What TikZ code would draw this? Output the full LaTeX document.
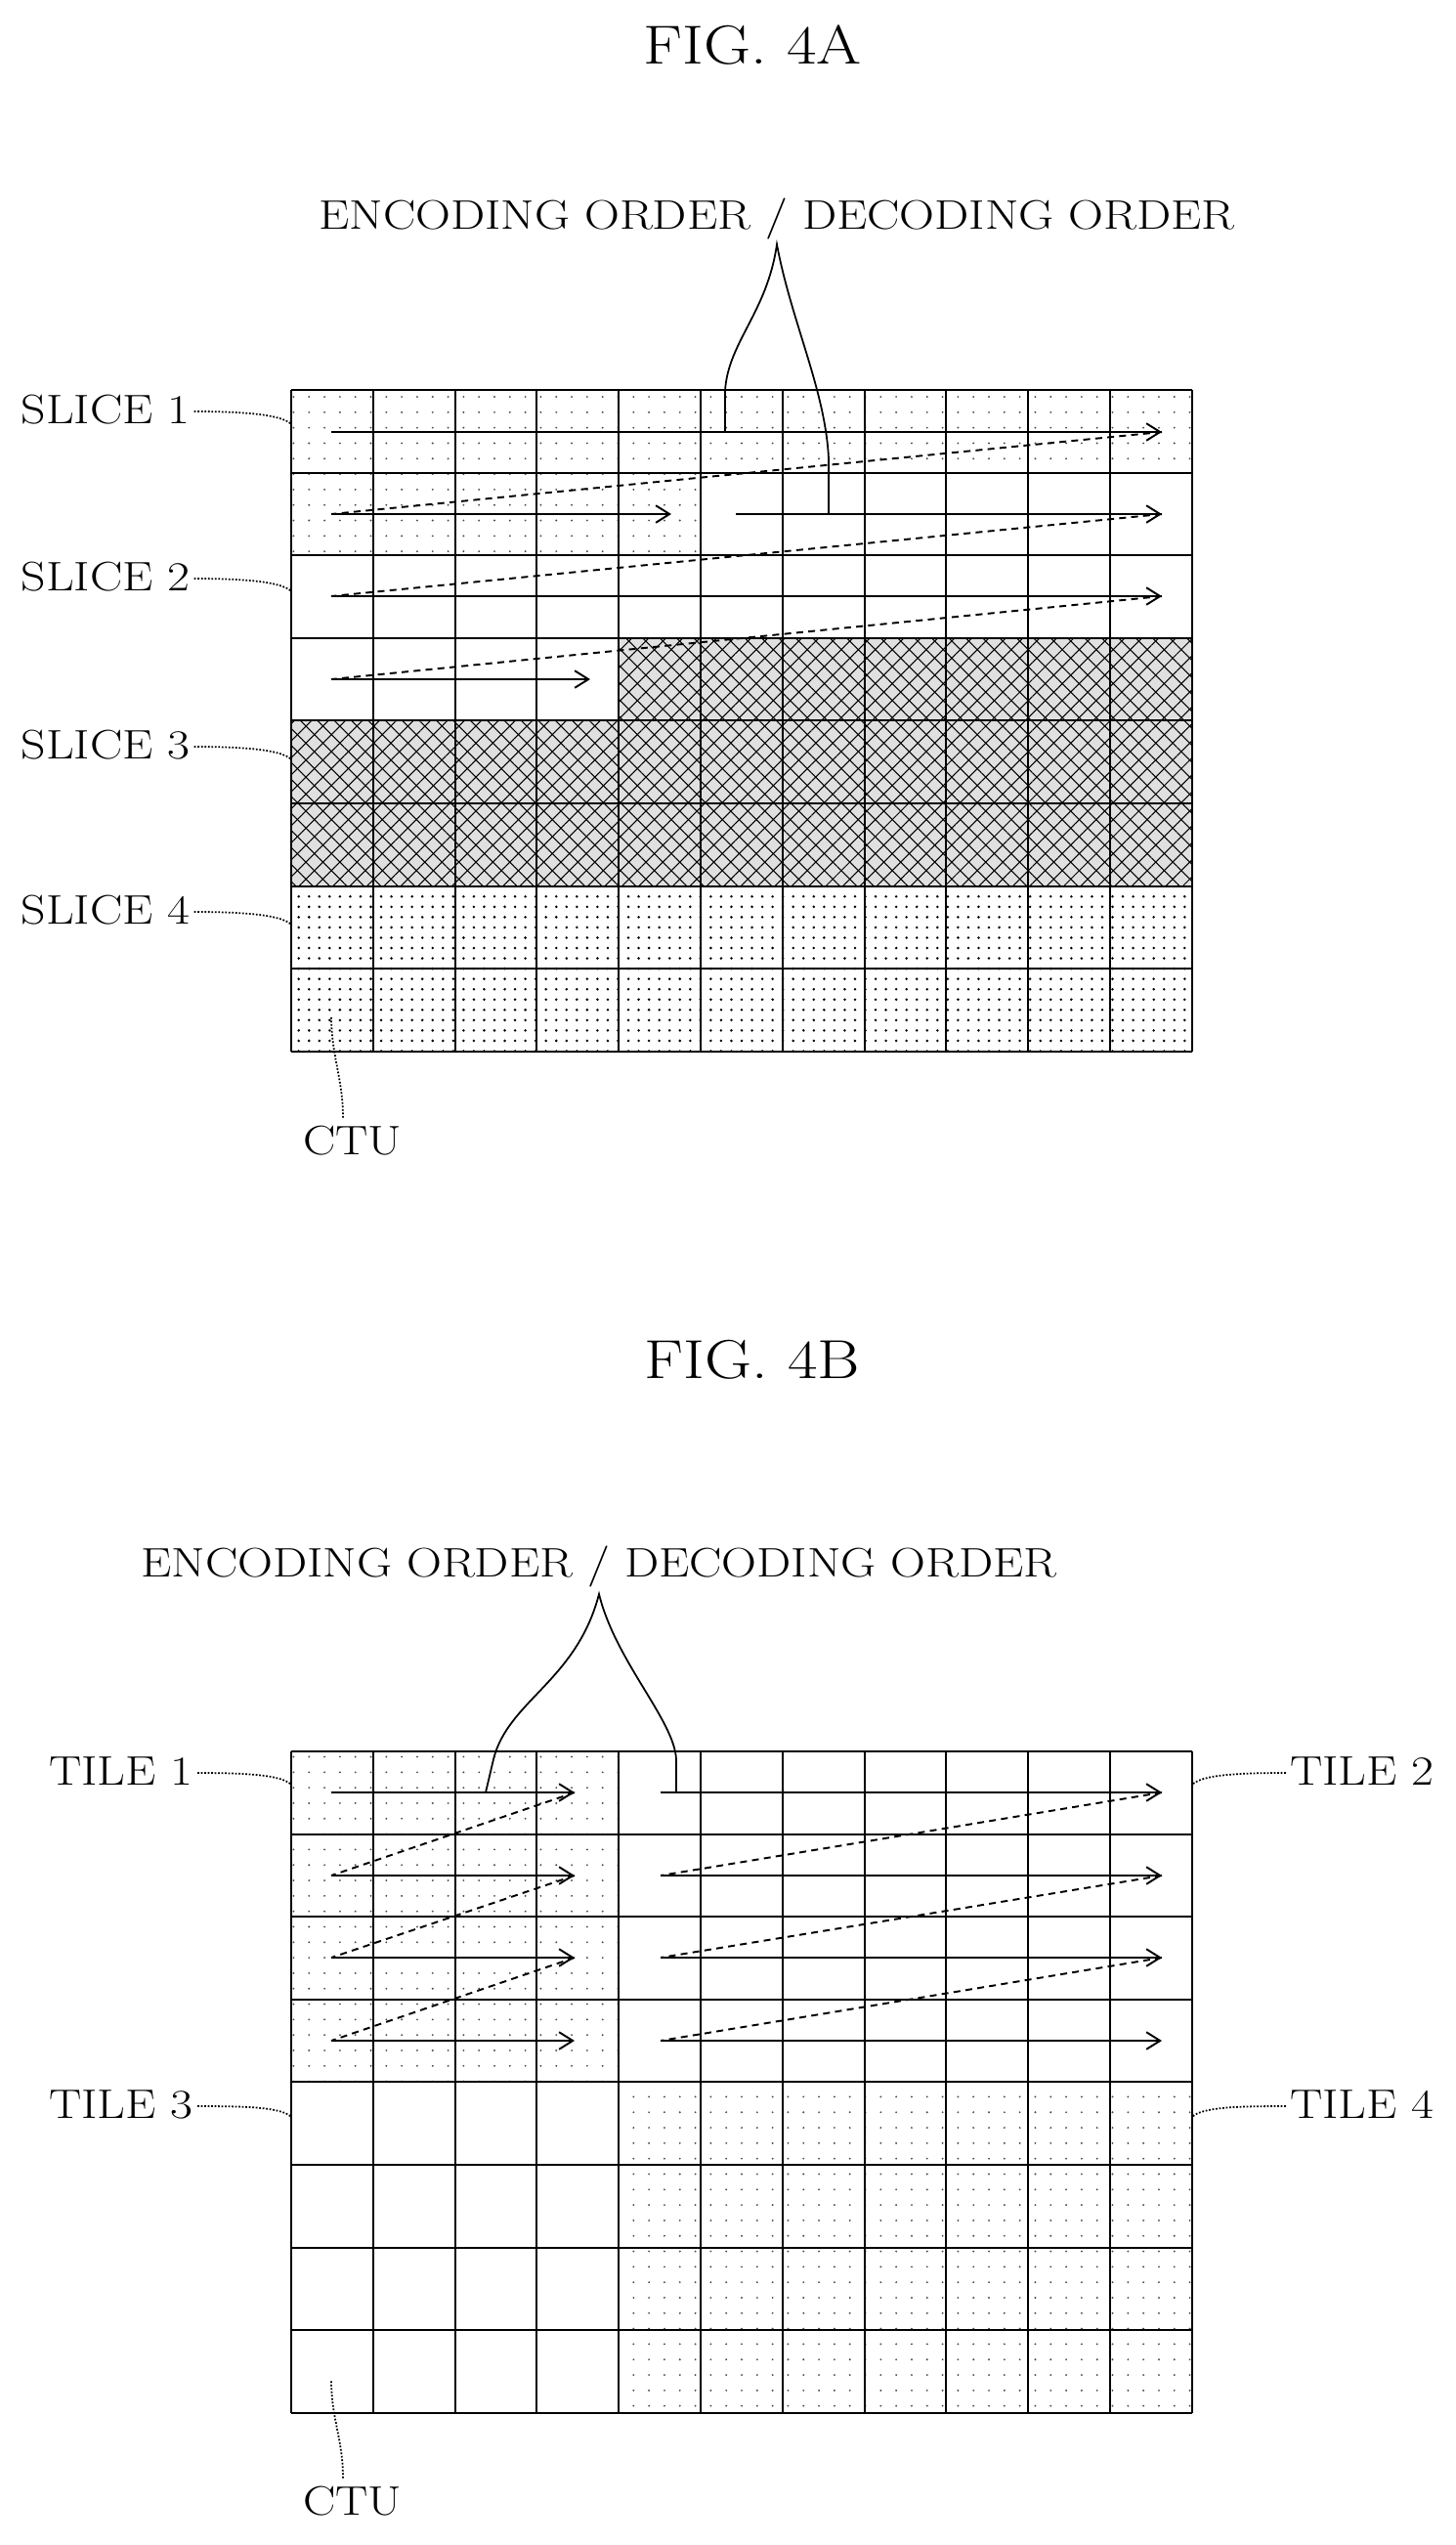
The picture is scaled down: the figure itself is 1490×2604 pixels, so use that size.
\documentclass[tikz,border=0pt]{standalone}
\usetikzlibrary{patterns.meta,arrows.meta}
\newcommand{\wdtx}[1]{\scalebox{1.18}[1]{#1}}
\begin{document}
\begin{tikzpicture}[x=0.02cm,y=-0.02cm,
  lbl/.style={inner sep=0pt,font=\fontsize{24}{24}\selectfont},
  ttl/.style={inner sep=0pt,font=\fontsize{32}{32}\selectfont},
  grid/.style={line width=1.1pt},
  ar/.style={line width=1.1pt,-{Straight Barb[length=8pt,width=10pt]}},
  ret/.style={line width=1.1pt,dash pattern=on 4pt off 3pt},
  lead/.style={line width=1pt,densely dotted},
  lt/.style={pattern={Dots[distance=9pt,radius=0.6pt]},pattern color=black!70},
  dk/.style={pattern={Dots[distance=6pt,radius=0.8pt]},pattern color=black},
  xh/.style={fill=black!12,postaction={pattern={Lines[angle=45,distance=7pt,line width=0.6pt]}},postaction={pattern={Lines[angle=-45,distance=7pt,line width=0.6pt]}}}]
\useasboundingbox (0,0) rectangle (1490,2604);
\def\cw{83.8}\def\rh{84.6}
% ================= FIG 4A =================
\node[ttl] (t4a) at (770,46) {\wdtx{FIG. 4A}};
\begin{scope}[shift={(298,399)}]
 \fill[lt] (0,0) rectangle (11*\cw,\rh);
 \fill[lt] (0,\rh) rectangle (5*\cw,2*\rh);
 \fill[xh] (4*\cw,3*\rh) rectangle (11*\cw,4*\rh);
 \fill[xh] (0,4*\rh) rectangle (11*\cw,6*\rh);
 \fill[dk] (0,6*\rh) rectangle (11*\cw,8*\rh);
 \foreach \i in {0,...,11} \draw[grid] (\i*\cw,0) -- (\i*\cw,8*\rh);
 \foreach \j in {0,...,8} \draw[grid] (0,\j*\rh) -- (11*\cw,\j*\rh);
\end{scope}
\coordinate (a0s) at (339,442); \coordinate (a0e) at (1189,442);
\coordinate (a1s) at (339,526); \coordinate (a1e) at (687,526);
\coordinate (a1t) at (753,526); \coordinate (a1f) at (1189,526);
\coordinate (a2s) at (339,610); \coordinate (a2e) at (1189,610);
\coordinate (a3s) at (339,695); \coordinate (a3e) at (604,695);
\draw[ar] (a0s) -- (a0e); \draw[ar] (a1s) -- (a1e); \draw[ar] (a1t) -- (a1f);
\draw[ar] (a2s) -- (a2e); \draw[ar] (a3s) -- (a3e);
\draw[ret] (a0e) -- (a1s); \draw[ret] (a1f) -- (a2s); \draw[ret] (a2e) -- (a3s);
\node[lbl] (eoa) at (795,224) {\wdtx{ENCODING ORDER / DECODING ORDER}};
\coordinate (apa) at (795,250);
\coordinate (ela) at (742,442); \coordinate (era) at (848,526);
\draw[line width=1pt] (ela) -- (742,400) .. controls (745,350) and (785,320) .. (apa)
  .. controls (810,330) and (845,400) .. (848,470) -- (era);
\node[lbl] (s1) at (108,419) {\wdtx{SLICE 1}};
\node[lbl] (s2) at (108,590) {\wdtx{SLICE 2}};
\node[lbl] (s3) at (108,762) {\wdtx{SLICE 3}};
\node[lbl] (s4) at (108,931) {\wdtx{SLICE 4}};
\node[lbl] (ca) at (361,1167) {\wdtx{CTU}};
\coordinate (g1) at (298,434); \coordinate (g2) at (298,605);
\coordinate (g3) at (298,777); \coordinate (g4) at (298,946);
\coordinate (gc) at (339,1040);
\foreach \s/\g in {s1/g1,s2/g2,s3/g3,s4/g4}
  \draw[lead] (\s.east) ++(4,2) .. controls +(50,0) and +(-10,-10) .. (\g);
\draw[lead] (ca.north) ++(-10,-8) .. controls +(0,-40) and +(0,40) .. (gc);
% ================= FIG 4B =================
\node[ttl] (t4b) at (770,1391) {\wdtx{FIG. 4B}};
\begin{scope}[shift={(298,1792)}]
 \fill[lt] (0,0) rectangle (4*\cw,4*\rh);
 \fill[lt] (4*\cw,4*\rh) rectangle (11*\cw,8*\rh);
 \foreach \i in {0,...,11} \draw[grid] (\i*\cw,0) -- (\i*\cw,8*\rh);
 \foreach \j in {0,...,8} \draw[grid] (0,\j*\rh) -- (11*\cw,\j*\rh);
\end{scope}
\foreach \r/\y in {0/1834,1/1919,2/2003,3/2088}{
  \coordinate (ls\r) at (339,\y); \coordinate (le\r) at (588,\y);
  \coordinate (rs\r) at (676,\y); \coordinate (re\r) at (1189,\y);
  \draw[ar] (ls\r) -- (le\r); \draw[ar] (rs\r) -- (re\r);}
\foreach \a/\b in {0/1,1/2,2/3}{
  \draw[ret] (le\a) -- (ls\b); \draw[ret] (re\a) -- (rs\b);}
\node[lbl] (eob) at (613,1603) {\wdtx{ENCODING ORDER / DECODING ORDER}};
\coordinate (apb) at (613,1631);
\coordinate (elb) at (497,1834); \coordinate (erb) at (692,1834);
\draw[line width=1pt] (elb) -- (505,1800) .. controls (520,1740) and (590,1720) .. (apb)
  .. controls (630,1700) and (690,1760) .. (692,1800) -- (erb);
\node[lbl] (t1) at (124,1812) {\wdtx{TILE 1}};
\node[lbl] (t2) at (1394,1812) {\wdtx{TILE 2}};
\node[lbl] (t3) at (124,2153) {\wdtx{TILE 3}};
\node[lbl] (t4) at (1394,2153) {\wdtx{TILE 4}};
\node[lbl] (cb) at (361,2559) {\wdtx{CTU}};
\coordinate (h1) at (298,1826); \coordinate (h2) at (1220,1826);
\coordinate (h3) at (298,2166); \coordinate (h4) at (1220,2166);
\coordinate (hc) at (339,2435);
\foreach \s/\g in {t1/h1,t3/h3}
  \draw[lead] (\s.east) ++(4,2) .. controls +(50,0) and +(-10,-10) .. (\g);
\foreach \s/\g in {t2/h2,t4/h4}
  \draw[lead] (\s.west) ++(-4,2) .. controls +(-50,0) and +(10,-10) .. (\g);
\draw[lead] (cb.north) ++(-10,-8) .. controls +(0,-40) and +(0,40) .. (hc);
\end{tikzpicture}
\end{document}
